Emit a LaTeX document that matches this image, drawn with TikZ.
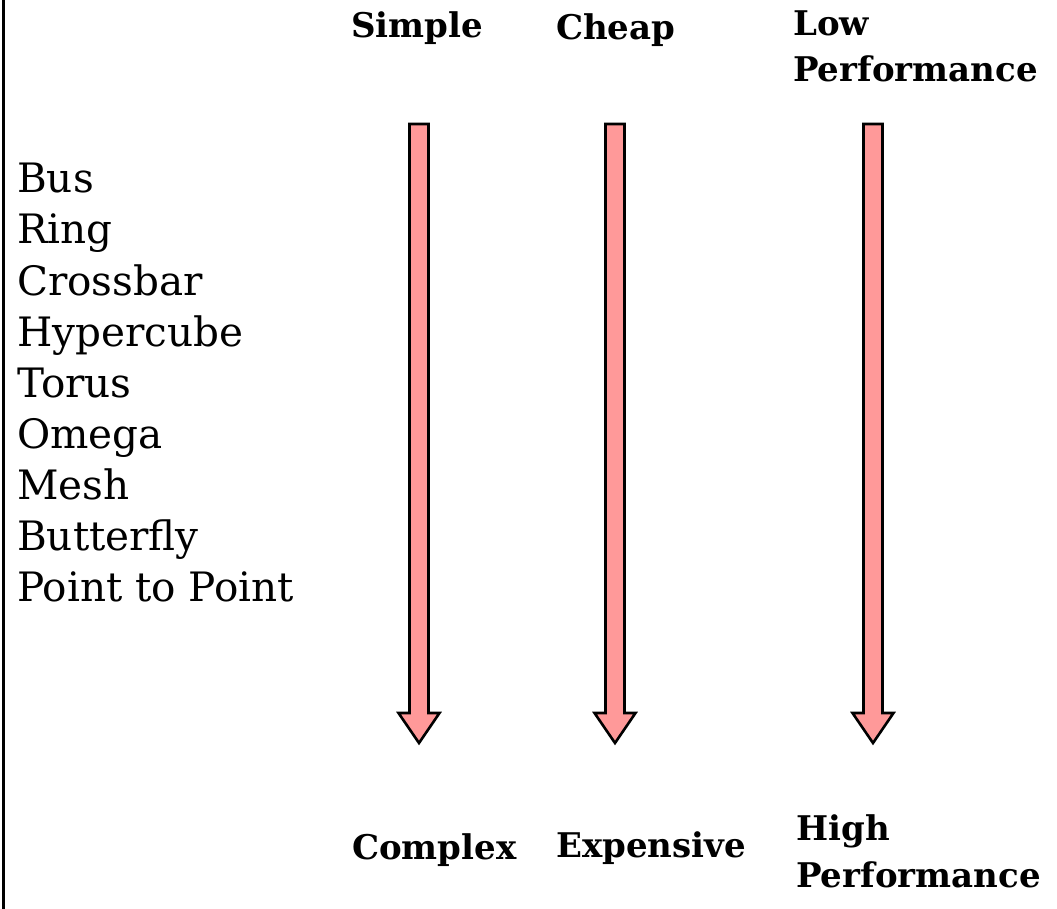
\documentclass[tikz,border=0pt]{standalone}
\usepackage{fontspec}
\setmainfont{DejaVu Serif}
\begin{document}
\begin{tikzpicture}[x=1pt,y=-1pt,
  listitem/.style={anchor=base west,inner sep=0pt,font=\fontsize{40.5}{51}\selectfont},
  heading/.style={anchor=base west,inner sep=0pt,font=\bfseries\fontsize{34}{46}\selectfont},
  fatarrow/.style={fill={rgb,255:red,255;green,153;blue,153},draw=black,line width=2.6pt,line join=miter}]
\useasboundingbox (0,0) rectangle (1057,909);
% frame line on the left
\draw[line width=3pt] (3,0) -- (3,909);
% topologies
\foreach \t [count=\i] in {Bus,Ring,Crossbar,Hypercube,Torus,Omega,Mesh,Butterfly,Point to Point}
  \node[listitem] (item\i) at (17,{193+51*(\i-1)}) {\t};
% scale headings
\node[heading] (simple) at (351,38) {Simple};
\node[heading] (cheap) at (556,40) {Cheap};
\node[heading] (low) at (793,36) {Low};
\node[heading] (lowperf) at (793,82) {Performance};
\node[heading] (complex) at (352,859) {Complex};
\node[heading] (expensive) at (556,857) {Expensive};
\node[heading] (high) at (796,840) {High};
\node[heading] (highperf) at (796,887) {Performance};
% block arrows
\foreach \cx/\nm in {419/a1,615/a2,873/a3}
  \draw[fatarrow] ({\cx-9.5},124) -- ({\cx+9.5},124) -- ({\cx+9.5},713) -- ({\cx+20.5},713)
     -- (\cx,743) coordinate (\nm) -- ({\cx-20.5},713) -- ({\cx-9.5},713) -- cycle;
\end{tikzpicture}
\end{document}
